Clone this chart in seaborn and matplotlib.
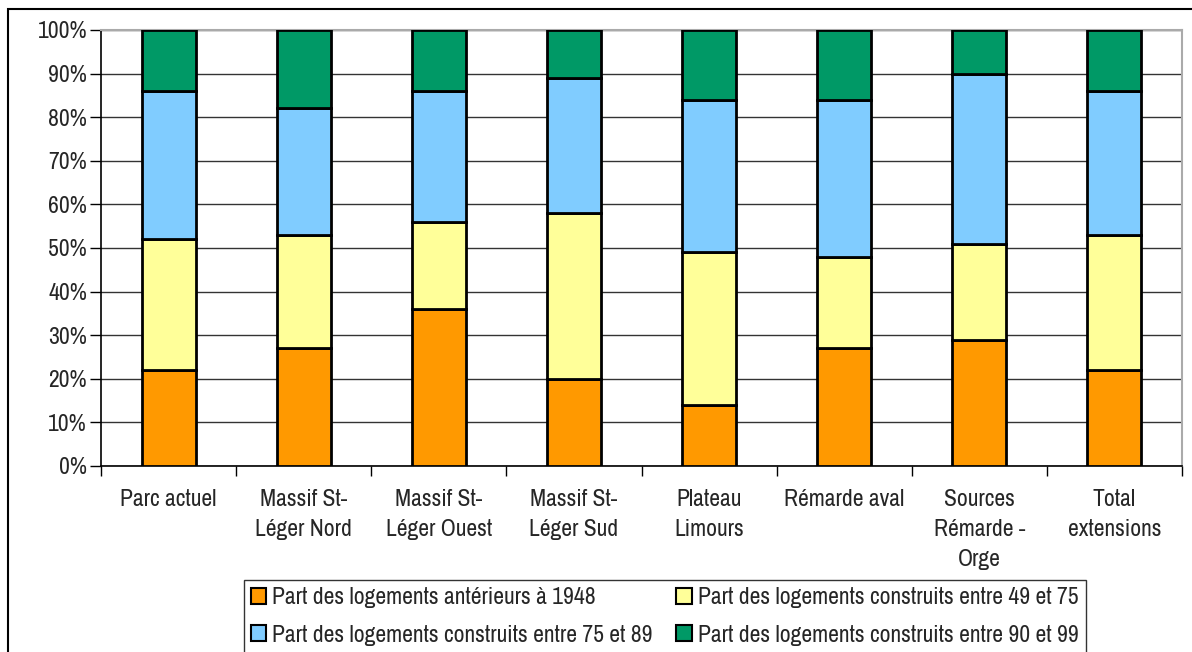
import matplotlib
matplotlib.use("Agg")
import matplotlib.pyplot as plt
from matplotlib.patches import Rectangle, Patch
import numpy as np
import pandas as pd
import seaborn as sns

CATEGORIES = [
    "Parc actuel",
    "Massif St-\nLéger Nord",
    "Massif St-\nLéger Ouest",
    "Massif St-\nLéger Sud",
    "Plateau\nLimours",
    "Rémarde aval",
    "Sources\nRémarde -\nOrge",
    "Total\nextensions",
]
SERIES = [
    "Part des logements antérieurs à 1948",
    "Part des logements construits entre 49 et 75",
    "Part des logements construits entre 75 et 89",
    "Part des logements construits entre 90 et 99",
]
AVANT_1948 = [22, 27, 36, 20, 14, 27, 29, 22]
ENTRE_49_75 = [30, 26, 20, 38, 35, 21, 22, 31]
ENTRE_75_89 = [34, 29, 30, 31, 35, 36, 39, 33]
ENTRE_90_99 = [14, 18, 14, 11, 16, 16, 10, 14]
COLORS = ["#FF9900", "#FFFF99", "#80CCFF", "#009966"]

sns.set_style("white")
plt.rcParams["font.family"] = ["Archivo Narrow", "Liberation Sans", "DejaVu Sans"]
FS = 17

fig = plt.figure(figsize=(11.92, 6.52), dpi=100)
ax = fig.add_axes([101 / 1192, 1 - 466 / 652, 1081 / 1192, 436 / 652])

values = [AVANT_1948, ENTRE_49_75, ENTRE_75_89, ENTRE_90_99]
bottom = np.zeros(len(CATEGORIES))
for name, vals, color in zip(SERIES, values, COLORS):
    df = pd.DataFrame({"cat": CATEGORIES, "val": vals})
    sns.barplot(data=df, x="cat", y="val", color=color, width=0.4,
                bottom=bottom, edgecolor="black", linewidth=2,
                saturation=1, ax=ax, zorder=3)
    bottom = bottom + np.array(vals)

ax.set_ylim(0, 100)
ax.set_xlim(-0.5, len(CATEGORIES) - 0.5)
ax.set_yticks(np.arange(0, 101, 10))
ax.set_yticklabels([f"{v}%" for v in range(0, 101, 10)], fontsize=FS)
ax.yaxis.grid(True, color="#333333", linewidth=1, zorder=0)
ax.set_axisbelow(True)
ax.set_xlabel("")
ax.set_ylabel("")

# category labels centred under bars, ticks on the boundaries
ax.set_xticks(np.arange(-0.5, len(CATEGORIES), 1))
ax.set_xticklabels([])
ax.tick_params(axis="x", length=7, width=1, color="black", bottom=True)
ax.tick_params(axis="y", length=8, width=1, color="black", left=True, pad=2)
for i, lab in enumerate(CATEGORIES):
    ax.text(i, -5.2, lab, ha="center", va="top", fontsize=FS,
            linespacing=1.55, transform=ax.transData)

for side in ["top", "right"]:
    ax.spines[side].set_color("#AAAAAA")
    ax.spines[side].set_linewidth(1.5)
for side in ["left", "bottom"]:
    ax.spines[side].set_color("black")
    ax.spines[side].set_linewidth(1.2)

# matplotlib fills legend columns first, reorder so rows read like the original
order = [0, 2, 1, 3]
handles = [Patch(facecolor=COLORS[i], edgecolor="black", linewidth=1.5) for i in order]
labels = [SERIES[i] for i in order]
leg = fig.legend(handles, labels, ncol=2, loc="upper left",
                 bbox_to_anchor=(244 / 1192, 1 - 580 / 652), fontsize=FS,
                 frameon=True, fancybox=False, handlelength=0.65, handleheight=0.65,
                 handletextpad=0.25, columnspacing=1.0, borderpad=0.3,
                 labelspacing=0.7, borderaxespad=0)
leg.get_frame().set_edgecolor("black")
leg.get_frame().set_linewidth(1)

fig.patches.append(Rectangle((8 / 1192, -0.05), 1.2, 1 - 9 / 652 + 0.05,
                             transform=fig.transFigure, fill=False,
                             edgecolor="black", linewidth=1.5))

fig.savefig("out.png", dpi=100)
